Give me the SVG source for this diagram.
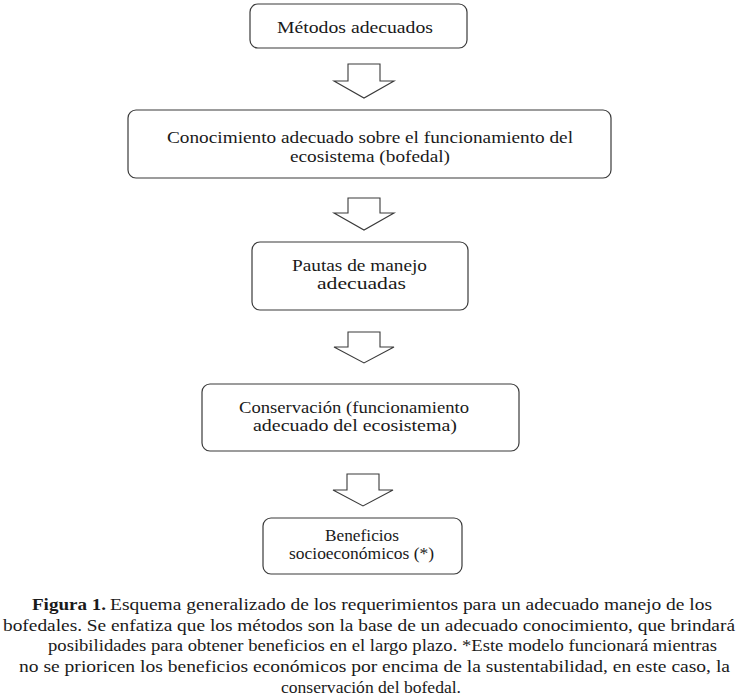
<svg xmlns="http://www.w3.org/2000/svg" width="738" height="699" viewBox="0 0 738 699">
<style>
.box{fill:#fff;stroke:#3a3a3a;stroke-width:1.2}
.arr{fill:#fff;stroke:#3a3a3a;stroke-width:1.1;stroke-linejoin:miter}
.t{font-family:"Liberation Serif","Times New Roman",serif;font-size:16px;fill:#1a1a1a}
.c{font-family:"Liberation Serif","Times New Roman",serif;font-size:16px;fill:#1a1a1a}
.b{font-weight:bold}
</style>
<rect width="738" height="699" fill="#fff"/>
<g id="n1">
<rect class="box" x="250" y="4" width="217" height="44" rx="8"/>
<text class="t" x="277" y="33" textLength="156" lengthAdjust="spacingAndGlyphs">Métodos adecuados</text>
</g>
<g id="n2">
<rect class="box" x="128" y="110" width="483" height="68" rx="8"/>
<text class="t" x="167" y="143" textLength="406" lengthAdjust="spacingAndGlyphs">Conocimiento adecuado sobre el funcionamiento del</text>
<text class="t" x="290" y="162" textLength="160" lengthAdjust="spacingAndGlyphs">ecosistema (bofedal)</text>
</g>
<g id="n3">
<rect class="box" x="252" y="242" width="216" height="68" rx="8"/>
<text class="t" x="292" y="271" textLength="135" lengthAdjust="spacingAndGlyphs">Pautas de manejo</text>
<text class="t" x="317" y="289" textLength="89" lengthAdjust="spacingAndGlyphs">adecuadas</text>
</g>
<g id="n4">
<rect class="box" x="202" y="384" width="317" height="67" rx="8"/>
<text class="t" x="239" y="413" textLength="230" lengthAdjust="spacingAndGlyphs">Conservación (funcionamiento</text>
<text class="t" x="253" y="431" textLength="204" lengthAdjust="spacingAndGlyphs">adecuado del ecosistema)</text>
</g>
<g id="n5">
<rect class="box" x="263" y="518" width="199" height="56" rx="8"/>
<text class="t" x="325" y="541" textLength="74" lengthAdjust="spacingAndGlyphs">Beneficios</text>
<text class="t" x="289" y="559" textLength="145" lengthAdjust="spacingAndGlyphs">socioeconómicos (*)</text>
</g>
<g id="connectors">
<polygon class="arr" points="348,64 380,64 380,81 394,81 364,98 334,81 348,81"/>
<polygon class="arr" points="348,198 380,198 380,213 394,213 364,230 334,213 348,213"/>
<polygon class="arr" points="348,332 380,332 380,347 394,347 364,363 334,347 348,347"/>
<polygon class="arr" points="347,474 379,474 379,490 393,490 363,506 333,490 347,490"/>
</g>
<g id="caption">
<text class="c b" x="32" y="610" textLength="74" lengthAdjust="spacingAndGlyphs">Figura 1.</text>
<text class="c" x="110" y="610" textLength="602" lengthAdjust="spacingAndGlyphs">Esquema generalizado de los requerimientos para un adecuado manejo de los</text>
<text class="c" x="3" y="631" textLength="732" lengthAdjust="spacingAndGlyphs">bofedales. Se enfatiza que los métodos son la base de un adecuado conocimiento, que brindará</text>
<text class="c" x="48" y="651" textLength="669" lengthAdjust="spacingAndGlyphs">posibilidades para obtener beneficios en el largo plazo. *Este modelo funcionará mientras</text>
<text class="c" x="19" y="672" textLength="711" lengthAdjust="spacingAndGlyphs">no se prioricen los beneficios económicos por encima de la sustentabilidad, en este caso, la</text>
<text class="c" x="281" y="693" textLength="180" lengthAdjust="spacingAndGlyphs">conservación del bofedal.</text>
</g>
</svg>
